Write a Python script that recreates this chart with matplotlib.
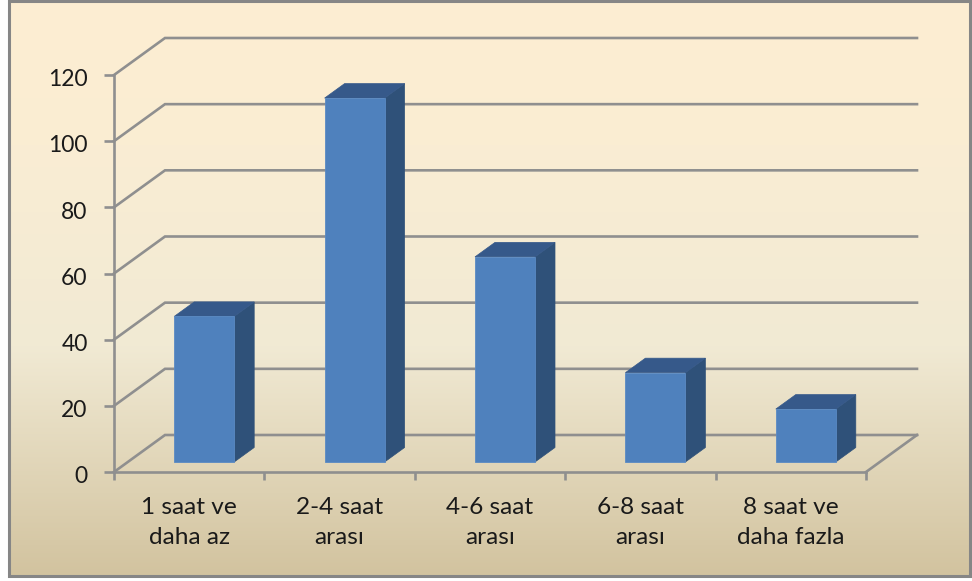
import matplotlib
matplotlib.use("Agg")
import matplotlib.pyplot as plt
from matplotlib.colors import LinearSegmentedColormap
from matplotlib.patches import Polygon, Rectangle
from matplotlib.ticker import FixedLocator, NullFormatter
from matplotlib.transforms import ScaledTranslation
import numpy as np

# data
categories = ["1 saat ve\ndaha az", "2-4 saat\narası", "4-6 saat\narası", "6-8 saat\narası", "8 saat ve\ndaha fazla"]
values = [44, 110, 62, 27, 16]
y_ticks = [0, 20, 40, 60, 80, 100, 120]

# colours
grid_col = "#8F8F8F"
front_col = "#4F81BD"
side_col = "#2F5179"
top_col = "#36598A"

W, H = 972, 581
plt.rcParams["font.family"] = ["Lato", "DejaVu Sans"]
fig = plt.figure(figsize=(W / 100, H / 100), dpi=100)

# background panel with vertical gradient
bg = fig.add_axes([0, 0, 1, 1], zorder=0)
bg.set_xlim(0, W)
bg.set_ylim(H, 0)
bg.axis("off")
cmap = LinearSegmentedColormap.from_list("panel", [(0, "#FDEED2"), (0.25, "#FAEDD3"), (0.6, "#F1EAD4"), (1, "#D2C39F")])
bg.imshow(np.linspace(0, 1, 256).reshape(-1, 1), cmap=cmap, aspect="auto", extent=(9, 970, 576, 1))
bg.add_patch(Rectangle((9, 1), 961, 575, fill=False, ec="#868686", lw=2.2))

# plot area, front edge of the floor
left, right, top, bottom = 114, 866, 75, 472
ax = fig.add_axes([left / W, 1 - bottom / H, (right - left) / W, (bottom - top) / H], zorder=1)
ax.patch.set_alpha(0)
ax.set_xlim(0, len(values))
ax.set_ylim(0, 120)

# depth of the 3d box in data units
depth_x = 51 / 150.4
depth_y = 37 / 3.308

for s in ["top", "right"]:
    ax.spines[s].set_visible(False)
for s in ["left", "bottom"]:
    ax.spines[s].set_color(grid_col)
    ax.spines[s].set_linewidth(1.9)
    ax.spines[s].set_zorder(2)

ax.set_yticks(y_ticks)
ax.set_xticks(np.arange(len(values) + 1))
ax.xaxis.set_major_formatter(NullFormatter())
ax.xaxis.set_minor_locator(FixedLocator(np.arange(len(values)) + 0.5))
ax.set_xticklabels(categories, minor=True, linespacing=1.5)
ax.tick_params(axis="y", which="major", color=grid_col, width=1.9, length=7, labelsize=16.5, labelcolor="#1A1A1A", pad=12)
ax.tick_params(axis="x", which="major", color=grid_col, width=1.9, length=6)
ax.tick_params(axis="x", which="minor", length=0, labelsize=17.6, labelcolor="#1A1A1A", pad=18)

# numbers sit slightly under their ticks
for lab in ax.get_yticklabels():
    lab.set_transform(lab.get_transform() + ScaledTranslation(0, -2 / 72, fig.dpi_scale_trans))

# walls and floor lines
for v in y_ticks:
    ax.plot([0, depth_x, len(values) + depth_x], [v, v + depth_y, v + depth_y], color=grid_col, lw=1.9, clip_on=False, zorder=1, solid_joinstyle="miter")
ax.plot([len(values), len(values) + depth_x], [0, depth_y], color=grid_col, lw=1.9, clip_on=False, zorder=1)

# bars, placed a bit into the box
bar_w = 60 / 150.4
off_x = 15 / 150.4
off_y = 10 / 3.308
bar_dx = 20 / 150.4
bar_dy = 14.5 / 3.308
xs = np.arange(len(values)) + 0.5 + off_x
ax.bar(xs, values, width=bar_w, bottom=off_y, color=front_col, edgecolor="#5A8AC4", linewidth=0.6, zorder=4, clip_on=False)
for x, v in zip(xs, values):
    x0 = x - bar_w / 2
    x1 = x + bar_w / 2
    y0 = off_y
    y1 = off_y + v
    ax.add_patch(Polygon([(x1, y0), (x1 + bar_dx, y0 + bar_dy), (x1 + bar_dx, y1 + bar_dy), (x1, y1)], closed=True, fc=side_col, ec=side_col, lw=0.5, zorder=3, clip_on=False))
    ax.add_patch(Polygon([(x0, y1), (x0 + bar_dx, y1 + bar_dy), (x1 + bar_dx, y1 + bar_dy), (x1, y1)], closed=True, fc=top_col, ec=top_col, lw=0.5, zorder=3, clip_on=False))

fig.savefig("out.png", dpi=100)
